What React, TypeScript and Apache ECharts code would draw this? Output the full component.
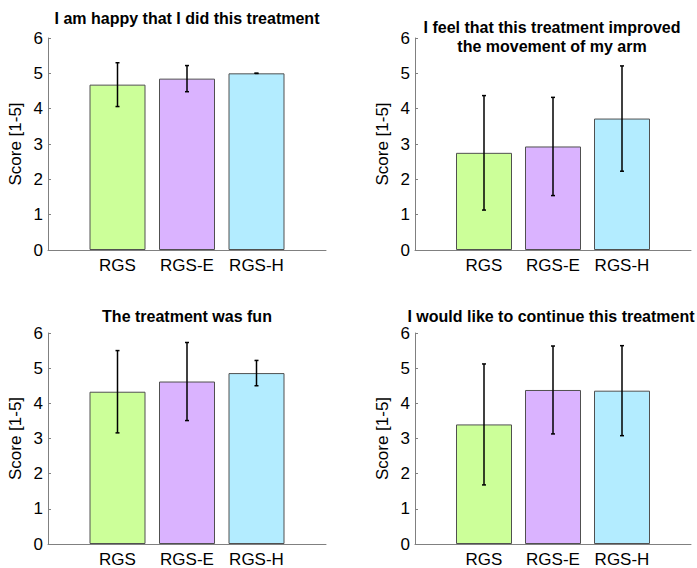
import React, { useEffect, useRef } from "react";
import * as echarts from "echarts";

const categories = ["RGS", "RGS-E", "RGS-H"];
const barColors = ["#ccff99", "#dab3ff", "#b3ecff"];
const titles = [
  "I am happy that I did this treatment",
  "I feel that this treatment improved\nthe movement of my arm",
  "The treatment was fun",
  "I would like to continue this treatment",
];
const means1 = [4.68, 4.85, 5.0];
const sds1 = [0.62, 0.37, 0.0];
const means2 = [2.75, 2.93, 3.72];
const sds2 = [1.62, 1.39, 1.49];
const means3 = [4.33, 4.62, 4.86];
const sds3 = [1.17, 1.11, 0.36];
const means4 = [3.4, 4.38, 4.36];
const sds4 = [1.72, 1.25, 1.28];
const yTicks = [0, 1, 2, 3, 4, 5, 6];

const panelMeans = [means1, means2, means3, means4];
const panelSds = [sds1, sds2, sds3, sds4];

const grids = [
  { left: 48, top: 38, width: 278, height: 212 },
  { left: 415, top: 38, width: 276, height: 212 },
  { left: 48, top: 333, width: 278, height: 213 },
  { left: 415, top: 333, width: 276, height: 213 },
];
const titlePos = [
  { x: 187, y: 18 },
  { x: 552, y: 37 },
  { x: 187, y: 316 },
  { x: 551, y: 316 },
];

export default function App() {
  const ref = useRef<HTMLDivElement>(null);
  useEffect(() => {
    document.body.style.margin = "0";
    const chart = echarts.init(ref.current!, null, { renderer: "svg" });
    const font = "'Liberation Sans', Arial, sans-serif";
    const xAxis: any[] = [];
    const yAxis: any[] = [];
    const series: any[] = [];
    grids.forEach((g, i) => {
      xAxis.push({
        type: "value",
        gridIndex: i,
        min: 0,
        max: 4,
        interval: 1,
        axisLine: { show: true, lineStyle: { color: "#808080", width: 1 } },
        axisTick: { show: false },
        splitLine: { show: false },
        axisLabel: {
          margin: 7,
          fontSize: 17,
          fontFamily: font,
          color: "#000",
          formatter: (v: number) => (v >= 1 && v <= 3 ? categories[v - 1] : ""),
        },
      });
      yAxis.push({
        type: "value",
        gridIndex: i,
        min: yTicks[0],
        max: yTicks[yTicks.length - 1],
        interval: 1,
        name: "Score [1-5]",
        nameLocation: "middle",
        nameGap: 24,
        nameTextStyle: { fontSize: 17, fontFamily: font, color: "#000" },
        axisLine: { show: true, lineStyle: { color: "#808080", width: 1 } },
        axisTick: { show: true, inside: true, length: 3, lineStyle: { color: "#808080" } },
        splitLine: { show: false },
        axisLabel: { margin: 5, fontSize: 17, fontFamily: font, color: "#000" },
      });
      const means = panelMeans[i];
      const sds = panelSds[i];
      series.push({
        type: "bar",
        xAxisIndex: i,
        yAxisIndex: i,
        barWidth: 56,
        data: means.map((m, k) => ({
          value: [k + 1, m],
          itemStyle: { color: barColors[k], borderColor: "#505050", borderWidth: 1 },
        })),
      });
      series.push({
        type: "custom",
        xAxisIndex: i,
        yAxisIndex: i,
        z: 5,
        data: means.map((m, k) => [k + 1, m - sds[k], m + sds[k]]),
        renderItem: (params: any, api: any) => {
          const x = api.value(0);
          const lo = api.coord([x, api.value(1)]);
          const hi = api.coord([x, api.value(2)]);
          const st = { stroke: "#000", lineWidth: 1.5 };
          const cap = 2;
          return {
            type: "group",
            children: [
              { type: "line", shape: { x1: lo[0], y1: lo[1], x2: hi[0], y2: hi[1] }, style: st },
              { type: "line", shape: { x1: hi[0] - cap, y1: hi[1], x2: hi[0] + cap, y2: hi[1] }, style: st },
              { type: "line", shape: { x1: lo[0] - cap, y1: lo[1], x2: lo[0] + cap, y2: lo[1] }, style: st },
            ],
          };
        },
      });
    });
    chart.setOption({
      animation: false,
      backgroundColor: "#fff",
      grid: grids.map((g) => ({ ...g, containLabel: false })),
      xAxis,
      yAxis,
      series,
      graphic: titles.map((t, i) => ({
        type: "text",
        x: titlePos[i].x,
        y: titlePos[i].y,
        style: {
          text: t,
          fontSize: 16,
          fontWeight: "bold",
          fontFamily: font,
          fill: "#000",
          textAlign: "center",
          textVerticalAlign: "middle",
          lineHeight: 19,
        },
      })),
    });
    return () => chart.dispose();
  }, []);
  return <div ref={ref} style={{ width: 697, height: 568 }} />;
}
